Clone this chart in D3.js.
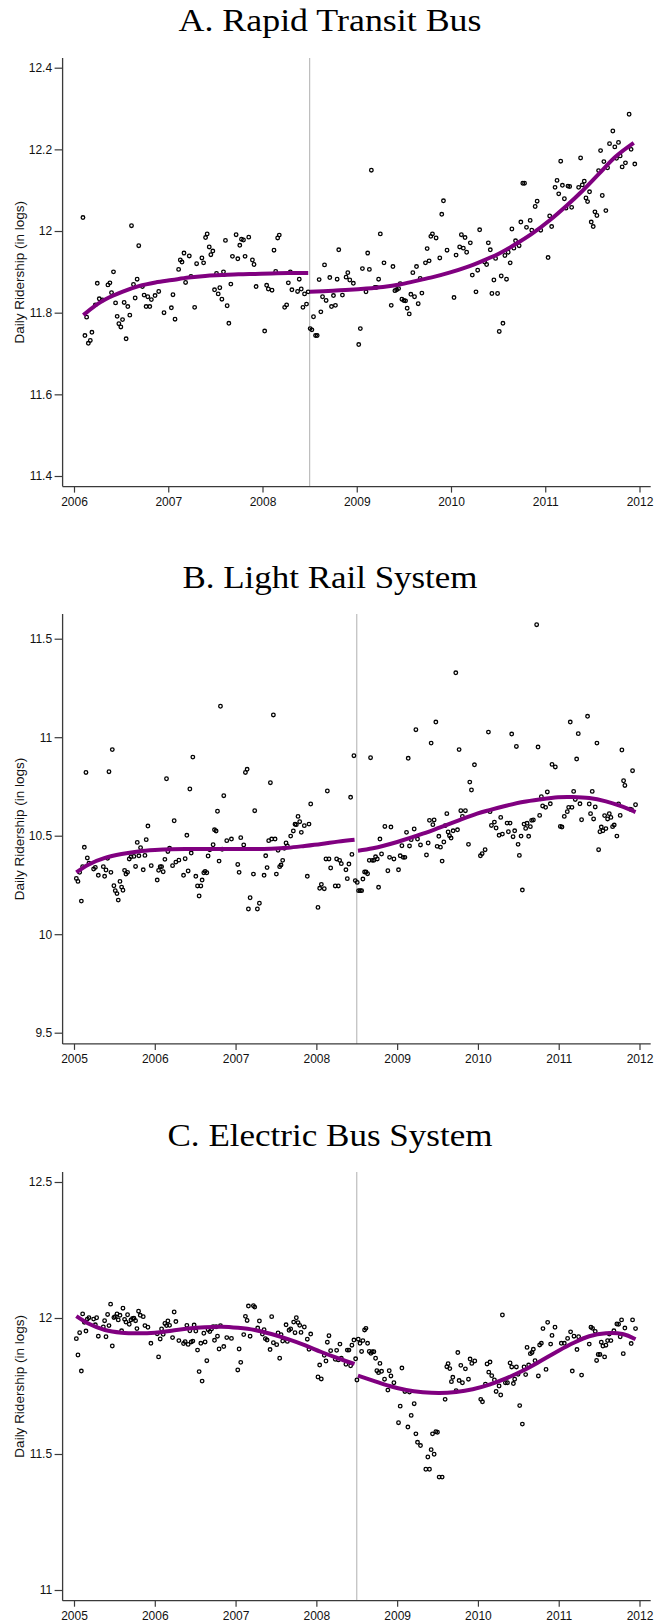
<!DOCTYPE html>
<html>
<head>
<meta charset="utf-8">
<script src="https://cdn.jsdelivr.net/npm/d3@7"></script>
<style>
  html, body { margin: 0; padding: 0; background: #fff; }
  svg { display: block; }
</style>
</head>
<body>
<svg id="chart"></svg>
<script>
const width = 654,
    height = 1623;

// ---- data: [year, log daily ridership] ----
const rapidPoints = [[2006.095,12.033],[2006.116,11.744],[2006.134,11.789],[2006.152,11.725],[2006.173,11.732],[2006.190,11.752],[2006.226,11.819],[2006.247,11.872],[2006.268,11.834],[2006.303,11.831],[2006.360,11.868],[2006.381,11.873],[2006.398,11.849],[2006.419,11.900],[2006.441,11.824],[2006.458,11.791],[2006.476,11.773],[2006.497,11.765],[2006.515,11.783],[2006.532,11.825],[2006.553,11.736],[2006.571,11.815],[2006.592,11.794],[2006.610,12.013],[2006.631,11.869],[2006.649,11.836],[2006.670,11.882],[2006.687,11.964],[2006.726,11.864],[2006.744,11.843],[2006.765,11.815],[2006.783,11.839],[2006.804,11.815],[2006.821,11.832],[2006.860,11.842],[2006.899,11.852],[2006.955,11.800],[2007.033,11.812],[2007.050,11.844],[2007.072,11.784],[2007.110,11.906],[2007.128,11.929],[2007.146,11.924],[2007.167,11.946],[2007.184,11.874],[2007.223,11.939],[2007.241,11.889],[2007.280,11.813],[2007.301,11.920],[2007.357,11.934],[2007.375,11.922],[2007.396,11.984],[2007.413,11.993],[2007.435,11.961],[2007.452,11.942],[2007.473,11.951],[2007.491,11.856],[2007.512,11.896],[2007.530,11.846],[2007.547,11.861],[2007.569,11.833],[2007.586,11.900],[2007.607,11.977],[2007.625,11.817],[2007.643,11.774],[2007.664,11.870],[2007.681,11.938],[2007.720,11.991],[2007.738,11.932],[2007.759,11.965],[2007.777,11.980],[2007.798,11.978],[2007.815,11.938],[2007.854,11.985],[2007.893,11.929],[2007.910,11.918],[2007.932,11.864],[2008.023,11.755],[2008.044,11.867],[2008.062,11.858],[2008.101,11.855],[2008.122,11.953],[2008.140,11.901],[2008.161,11.983],[2008.178,11.990],[2008.235,11.813],[2008.256,11.819],[2008.274,11.873],[2008.295,11.900],[2008.312,11.856],[2008.372,11.852],[2008.390,11.882],[2008.411,11.858],[2008.429,11.813],[2008.446,11.846],[2008.467,11.821],[2008.485,11.851],
  [2008.506,11.761],[2008.524,11.758],[2008.541,11.790],[2008.563,11.744],[2008.580,11.744],[2008.601,11.881],[2008.619,11.802],[2008.637,11.839],[2008.658,11.917],[2008.675,11.830],[2008.714,11.886],[2008.732,11.815],[2008.753,11.842],[2008.774,11.818],[2008.792,11.882],[2008.809,11.954],[2008.848,11.843],[2008.887,11.887],[2008.905,11.898],[2008.926,11.880],[2008.964,11.872],[2009.021,11.722],[2009.038,11.761],[2009.060,11.908],[2009.098,11.851],[2009.116,11.946],[2009.134,11.906],[2009.155,12.149],[2009.193,11.862],[2009.211,11.862],[2009.232,11.882],[2009.250,11.993],[2009.289,11.922],[2009.366,11.818],[2009.384,11.913],[2009.405,11.854],[2009.423,11.856],[2009.444,11.859],[2009.461,11.871],[2009.479,11.833],[2009.500,11.830],[2009.518,11.829],[2009.535,11.811],[2009.557,11.797],[2009.574,11.845],[2009.595,11.898],[2009.613,11.839],[2009.634,11.913],[2009.652,11.822],[2009.673,11.884],[2009.691,11.848],[2009.729,11.922],[2009.747,11.957],[2009.768,11.927],[2009.786,11.987],[2009.803,11.993],[2009.842,11.983],[2009.881,11.934],[2009.902,12.041],[2009.920,12.074],[2009.958,11.953],[2010.032,11.837],[2010.054,11.941],[2010.092,11.961],[2010.110,11.991],[2010.131,11.958],[2010.149,11.984],[2010.166,11.948],[2010.205,11.971],[2010.226,11.892],[2010.265,11.851],[2010.283,11.904],[2010.304,12.003],[2010.357,11.924],[2010.378,11.918],[2010.396,11.971],[2010.417,11.954],[2010.434,11.847],[2010.455,11.880],[2010.473,11.933],[2010.494,11.847],[2010.512,11.754],[2010.533,11.890],[2010.551,11.774],[2010.572,11.940],[2010.589,11.882],[2010.607,11.948],[2010.628,11.922],[2010.646,12.005],[2010.667,11.958],[2010.685,11.976],[2010.723,11.964],[2010.741,12.022],[2010.762,12.117],[2010.780,12.117],[2010.801,12.009],[2010.840,12.026],[2010.857,12.002],[2010.893,12.060],[2010.914,12.073],[2010.952,12.002],[2011.030,11.935],[2011.047,12.037],[2011.068,12.011],[2011.104,12.107],[2011.125,12.124],[2011.143,12.091],[2011.164,12.171],[2011.182,12.112],[2011.203,12.079],[2011.220,12.056],[2011.241,12.110],[2011.259,12.109],[2011.280,12.058],[2011.354,12.107],[2011.375,12.179],[2011.393,12.113],[2011.414,12.122],[2011.432,12.081],[2011.449,12.072],[2011.470,12.096],[2011.488,12.022],[2011.509,12.011],[2011.527,12.047],[2011.548,12.038],[2011.566,12.148],[2011.587,12.197],[2011.605,12.087],[2011.622,12.170],[2011.643,12.050],[2011.661,12.155],[2011.682,12.214],[2011.717,12.245],[2011.738,12.206],[2011.756,12.178],[2011.777,12.217],[2011.795,12.184],[2011.816,12.157],[2011.851,12.167],[2011.890,12.286],[2011.911,12.200],[2011.950,12.164]];

const rapidFitBefore = [[2006.099,11.794],[2006.229,11.818],[2006.335,11.833],[2006.511,11.851],[2006.687,11.865],[2006.864,11.874],[2007.040,11.880],[2007.216,11.886],[2007.392,11.890],[2007.569,11.892],[2007.745,11.894],[2007.921,11.895],[2008.097,11.896],[2008.274,11.897],[2008.485,11.897]];
const rapidFitAfter = [[2008.503,11.851],[2008.749,11.854],[2008.926,11.856],[2009.102,11.859],[2009.278,11.863],[2009.454,11.869],[2009.631,11.878],[2009.807,11.887],[2009.983,11.898],[2010.159,11.911],[2010.336,11.927],[2010.512,11.945],[2010.688,11.968],[2010.864,11.994],[2011.041,12.025],[2011.217,12.060],[2011.393,12.098],[2011.569,12.140],[2011.745,12.182],[2011.939,12.216]];

const railPoints = [[2005.029,10.283],[2005.049,10.268],[2005.070,10.314],[2005.091,10.168],[2005.107,10.343],[2005.128,10.441],[2005.148,10.821],[2005.165,10.387],[2005.185,10.361],[2005.243,10.331],[2005.264,10.339],[2005.301,10.299],[2005.363,10.343],[2005.379,10.294],[2005.396,10.326],[2005.416,10.385],[2005.433,10.825],[2005.457,10.314],[2005.474,10.937],[2005.494,10.246],[2005.511,10.221],[2005.532,10.206],[2005.548,10.173],[2005.569,10.268],[2005.589,10.239],[2005.606,10.223],[2005.626,10.324],[2005.643,10.305],[2005.663,10.314],[2005.684,10.382],[2005.705,10.393],[2005.742,10.395],[2005.762,10.344],[2005.783,10.466],[2005.803,10.398],[2005.824,10.439],[2005.857,10.327],[2005.878,10.400],[2005.894,10.480],[2005.915,10.549],[2005.956,10.348],[2006.030,10.275],[2006.047,10.324],[2006.067,10.343],[2006.084,10.343],[2006.104,10.317],[2006.125,10.380],[2006.145,10.789],[2006.162,10.420],[2006.183,10.436],[2006.220,10.348],[2006.240,10.576],[2006.261,10.366],[2006.298,10.376],[2006.356,10.299],[2006.376,10.383],[2006.397,10.502],[2006.413,10.321],[2006.434,10.737],[2006.451,10.412],[2006.471,10.899],[2006.508,10.294],[2006.529,10.245],[2006.549,10.194],[2006.570,10.245],[2006.586,10.275],[2006.607,10.312],[2006.623,10.319],[2006.644,10.312],[2006.660,10.397],[2006.681,10.429],[2006.722,10.454],[2006.739,10.530],[2006.759,10.524],[2006.776,10.624],[2006.796,10.371],[2006.813,11.157],[2006.834,10.431],[2006.854,10.703],[2006.891,10.475],[2006.949,10.483],[2007.027,10.354],[2007.044,10.314],[2007.064,10.490],[2007.101,10.453],[2007.122,10.821],[2007.143,10.837],[2007.159,10.128],[2007.180,10.185],[2007.221,10.305],[2007.237,10.627],[2007.270,10.128],[2007.295,10.157],[2007.353,10.299],[2007.373,10.398],[2007.390,10.338],[2007.410,10.475],[2007.431,10.769],[2007.447,10.483],[2007.468,11.113],[2007.489,10.483],[2007.505,10.305],[2007.526,10.426],[2007.546,10.343],[2007.563,10.351],[2007.583,10.375],[2007.604,10.436],[2007.625,10.463],[2007.641,10.448],[2007.682,10.498],[2007.715,10.524],[2007.736,10.558],[2007.752,10.556],[2007.773,10.598],[2007.794,10.571],[2007.814,10.517],[2007.851,10.551],[2007.888,10.294],[2007.909,10.559],[2007.930,10.661],[2008.020,10.136],[2008.041,10.233],[2008.062,10.253],[2008.098,10.231],[2008.119,10.382],[2008.136,10.727],[2008.156,10.382],[2008.177,10.336],[2008.234,10.245],[2008.251,10.382],[2008.272,10.245],[2008.288,10.375],[2008.309,10.358],[2008.366,10.327],[2008.383,10.282],[2008.403,10.356],[2008.424,10.695],[2008.440,10.405],[2008.465,10.906],[2008.482,10.272],
  [2008.506,10.263],[2008.523,10.221],[2008.544,10.221],[2008.560,10.221],[2008.576,10.280],[2008.597,10.316],[2008.614,10.316],[2008.634,10.307],[2008.655,10.375],[2008.671,10.896],[2008.692,10.375],[2008.712,10.375],[2008.733,10.393],[2008.754,10.382],[2008.770,10.238],[2008.787,10.483],[2008.807,10.407],[2008.848,10.547],[2008.885,10.322],[2008.906,10.390],[2008.923,10.544],[2008.960,10.382],[2009.017,10.327],[2009.038,10.398],[2009.059,10.449],[2009.075,10.390],[2009.096,10.390],[2009.116,10.517],[2009.137,10.893],[2009.153,10.448],[2009.174,10.480],[2009.211,10.534],[2009.232,11.038],[2009.252,10.483],[2009.289,10.453],[2009.363,10.402],[2009.384,10.463],[2009.400,10.578],[2009.421,10.970],[2009.442,10.556],[2009.458,10.580],[2009.479,11.077],[2009.495,10.446],[2009.516,10.497],[2009.536,10.442],[2009.557,10.371],[2009.578,10.468],[2009.594,10.551],[2009.615,10.612],[2009.631,10.519],[2009.648,10.500],[2009.668,10.488],[2009.693,10.525],[2009.726,11.327],[2009.747,10.530],[2009.767,10.937],[2009.788,10.627],[2009.808,10.598],[2009.845,10.627],[2009.883,10.456],[2009.899,10.772],[2009.920,10.732],[2009.957,10.860],[2010.031,10.398],[2010.052,10.409],[2010.089,10.429],[2010.130,11.026],[2010.150,10.622],[2010.167,10.552],[2010.204,10.569],[2010.225,10.539],[2010.262,10.502],[2010.282,10.593],[2010.303,10.508],[2010.361,10.564],[2010.377,10.520],[2010.398,10.564],[2010.418,11.016],[2010.435,10.495],[2010.455,10.525],[2010.476,10.953],[2010.497,10.456],[2010.513,10.400],[2010.534,10.498],[2010.550,10.224],[2010.571,10.559],[2010.591,10.537],[2010.608,10.563],[2010.628,10.497],[2010.649,10.546],[2010.665,10.578],[2010.686,10.580],[2010.727,11.571],[2010.744,10.950],[2010.764,10.603],[2010.785,10.698],[2010.801,10.651],[2010.838,10.644],[2010.859,10.722],[2010.896,10.662],[2010.917,10.862],[2010.958,10.849],[2011.020,10.547],[2011.040,10.544],[2011.069,10.598],[2011.106,10.622],[2011.123,10.644],[2011.143,11.077],[2011.164,10.644],[2011.185,10.725],[2011.205,10.684],[2011.222,10.889],[2011.242,11.018],[2011.263,10.662],[2011.283,10.581],[2011.357,11.106],[2011.378,10.661],[2011.394,10.612],[2011.415,10.725],[2011.432,10.585],[2011.452,10.646],[2011.473,10.970],[2011.494,10.429],[2011.510,10.520],[2011.527,10.544],[2011.547,10.525],[2011.568,10.602],[2011.584,10.536],[2011.605,10.585],[2011.626,10.612],[2011.646,10.593],[2011.667,10.546],[2011.687,10.554],[2011.720,10.498],[2011.741,10.661],[2011.761,10.603],[2011.782,10.935],[2011.803,10.779],[2011.819,10.755],[2011.881,10.635],[2011.902,10.632],[2011.914,10.830],[2011.951,10.657]];

const railFitBefore = [[2005.029,10.314],[2005.177,10.353],[2005.383,10.387],[2005.589,10.407],[2005.795,10.420],[2006.001,10.427],[2006.207,10.431],[2006.413,10.432],[2006.619,10.432],[2006.825,10.432],[2007.031,10.432],[2007.237,10.432],[2007.443,10.434],[2007.649,10.439],[2007.855,10.448],[2008.061,10.458],[2008.267,10.470],[2008.473,10.480]];
const railFitAfter = [[2008.515,10.424],[2008.700,10.436],[2009.001,10.468],[2009.318,10.510],[2009.524,10.541],[2009.730,10.573],[2009.990,10.612],[2010.142,10.630],[2010.348,10.652],[2010.554,10.671],[2010.760,10.684],[2010.991,10.695],[2011.173,10.696],[2011.378,10.691],[2011.584,10.674],[2011.790,10.647],[2011.951,10.620]];

const electricPoints = [[2005.029,11.924],[2005.049,11.864],[2005.070,11.946],[2005.091,11.805],[2005.107,12.015],[2005.128,11.984],[2005.148,11.952],[2005.165,11.996],[2005.185,12.001],[2005.243,11.996],[2005.264,11.975],[2005.280,12.001],[2005.301,11.933],[2005.363,11.967],[2005.379,11.990],[2005.396,11.931],[2005.416,12.013],[2005.433,11.972],[2005.453,12.051],[2005.474,11.897],[2005.494,12.002],[2005.511,12.005],[2005.532,12.015],[2005.548,11.993],[2005.569,12.010],[2005.589,11.953],[2005.606,12.036],[2005.626,11.995],[2005.643,11.985],[2005.663,12.012],[2005.684,11.977],[2005.705,11.993],[2005.725,11.998],[2005.742,11.999],[2005.762,11.990],[2005.779,11.961],[2005.799,12.025],[2005.820,12.010],[2005.857,12.005],[2005.878,11.972],[2005.915,11.966],[2005.952,11.907],[2006.030,11.942],[2006.047,11.857],[2006.067,11.923],[2006.084,11.960],[2006.104,11.940],[2006.125,11.980],[2006.145,11.972],[2006.162,11.989],[2006.183,11.973],[2006.220,11.928],[2006.240,12.022],[2006.261,11.987],[2006.298,11.917],[2006.356,11.906],[2006.376,11.913],[2006.397,11.973],[2006.413,11.903],[2006.434,11.953],[2006.451,11.912],[2006.471,11.915],[2006.487,11.974],[2006.508,11.952],[2006.529,11.882],[2006.549,11.803],[2006.570,11.907],[2006.586,11.768],[2006.607,11.944],[2006.623,11.912],[2006.644,11.843],[2006.660,11.957],[2006.681,11.950],[2006.702,11.960],[2006.722,11.968],[2006.739,11.918],[2006.759,11.968],[2006.776,11.933],[2006.796,11.886],[2006.813,11.972],[2006.854,11.895],[2006.891,11.928],[2006.949,11.925],[2007.027,11.809],[2007.044,11.886],[2007.064,11.837],[2007.101,11.939],[2007.122,12.006],[2007.143,11.991],[2007.159,12.044],[2007.180,11.933],[2007.221,12.045],[2007.237,12.040],[2007.274,11.963],[2007.295,11.989],[2007.332,11.941],[2007.353,11.957],[2007.369,11.924],[2007.390,11.919],[2007.427,11.884],[2007.447,12.005],[2007.468,11.909],[2007.509,11.902],[2007.526,11.945],[2007.546,11.852],[2007.563,11.939],[2007.583,11.915],[2007.625,11.975],[2007.641,11.914],[2007.662,11.955],[2007.682,11.960],[2007.719,11.985],[2007.736,11.946],[2007.752,12.001],[2007.773,11.983],[2007.794,11.973],[2007.810,11.947],[2007.851,11.967],[2007.888,11.922],[2007.909,11.885],[2007.930,11.941],[2008.020,11.783],[2008.041,11.827],[2008.061,11.776],[2008.098,11.863],[2008.119,11.842],[2008.136,11.911],[2008.156,11.935],[2008.177,11.880],[2008.234,11.848],[2008.251,11.881],[2008.272,11.846],[2008.292,11.904],[2008.309,11.852],[2008.366,11.830],[2008.383,11.882],[2008.403,11.882],[2008.424,11.824],[2008.440,11.900],[2008.465,11.919],[2008.486,11.850],
  [2008.502,11.772],[2008.519,11.922],[2008.540,11.907],[2008.560,11.877],[2008.576,11.917],[2008.597,11.956],[2008.614,11.962],[2008.634,11.907],[2008.655,11.877],[2008.675,11.870],[2008.692,11.876],[2008.712,11.876],[2008.733,11.852],[2008.749,11.806],[2008.770,11.799],[2008.787,11.833],[2008.807,11.804],[2008.844,11.775],[2008.885,11.735],[2008.902,11.806],[2008.923,11.787],[2008.960,11.762],[2009.017,11.615],[2009.038,11.676],[2009.059,11.816],[2009.096,11.730],[2009.133,11.599],[2009.153,11.728],[2009.174,11.642],[2009.211,11.685],[2009.232,11.574],[2009.252,11.543],[2009.289,11.531],[2009.355,11.444],[2009.380,11.489],[2009.400,11.444],[2009.421,11.516],[2009.438,11.574],[2009.458,11.499],[2009.479,11.582],[2009.499,11.580],[2009.520,11.415],[2009.557,11.415],[2009.594,11.701],[2009.615,11.821],[2009.631,11.832],[2009.652,11.814],[2009.672,11.766],[2009.689,11.782],[2009.730,11.733],[2009.751,11.873],[2009.767,11.770],[2009.788,11.826],[2009.808,11.762],[2009.845,11.813],[2009.883,11.775],[2009.903,11.849],[2009.924,11.833],[2009.961,11.842],[2010.035,11.701],[2010.056,11.692],[2010.093,11.757],[2010.113,11.831],[2010.134,11.801],[2010.150,11.838],[2010.171,11.788],[2010.204,11.772],[2010.225,11.730],[2010.262,11.750],[2010.282,11.717],[2010.303,12.011],[2010.340,11.762],[2010.365,11.762],[2010.398,11.835],[2010.418,11.820],[2010.439,11.759],[2010.455,11.775],[2010.476,11.820],[2010.497,11.793],[2010.517,11.678],[2010.550,11.610],[2010.571,11.820],[2010.591,11.792],[2010.608,11.892],[2010.628,11.827],[2010.649,11.869],[2010.670,11.873],[2010.686,11.885],[2010.707,11.843],[2010.748,11.787],[2010.764,11.901],[2010.785,11.907],[2010.805,11.961],[2010.843,11.811],[2010.863,11.984],[2010.900,11.904],[2010.917,11.936],[2010.954,11.966],[2011.032,11.907],[2011.069,11.907],[2011.110,11.925],[2011.147,11.949],[2011.168,11.805],[2011.189,11.933],[2011.226,11.884],[2011.246,11.931],[2011.283,11.790],[2011.378,11.904],[2011.399,11.966],[2011.419,11.962],[2011.452,11.951],[2011.469,11.844],[2011.489,11.866],[2011.510,11.866],[2011.527,11.911],[2011.547,11.897],[2011.568,11.857],[2011.584,11.900],[2011.605,11.917],[2011.626,11.941],[2011.646,11.917],[2011.683,11.953],[2011.720,11.978],[2011.741,11.977],[2011.761,11.931],[2011.778,11.993],[2011.799,11.869],[2011.819,11.963],[2011.897,11.906],[2011.914,11.993],[2011.951,11.961]];

const electricFitBefore = [[2005.029,12.007],[2005.177,11.980],[2005.383,11.956],[2005.589,11.946],[2005.795,11.944],[2006.001,11.946],[2006.207,11.953],[2006.413,11.961],[2006.619,11.966],[2006.825,11.968],[2007.031,11.964],[2007.237,11.956],[2007.443,11.941],[2007.649,11.922],[2007.855,11.900],[2008.061,11.875],[2008.267,11.852],[2008.473,11.831]];
const electricFitAfter = [[2008.515,11.788],[2008.700,11.770],[2008.906,11.750],[2009.112,11.735],[2009.318,11.727],[2009.524,11.724],[2009.730,11.728],[2009.936,11.738],[2010.142,11.755],[2010.348,11.778],[2010.554,11.806],[2010.760,11.839],[2010.966,11.874],[2011.173,11.907],[2011.378,11.933],[2011.584,11.944],[2011.790,11.941],[2011.951,11.922]];

const titles = ["A. Rapid Transit Bus", "B. Light Rail System", "C. Electric Bus System"];
const yTickSets = [[11.4, 11.6, 11.8, 12, 12.2, 12.4], [9.5, 10, 10.5, 11, 11.5], [11, 11.5, 12, 12.5]];
const yDomains = [[11.4, 12.4], [9.5, 11.5], [11, 12.5]];
const xDomains = [[2006, 2012], [2005, 2012], [2005, 2012]];
const cutoffYear = 2008.5;
const yLabel = "Daily Ridership (in logs)";

// ---- layout (pixels) ----
const panels = [
    {titleY: 31, titleW: 303, top: 58, base: 486.6, yr: [476, 67.7], pts: rapidPoints, fits: [rapidFitBefore, rapidFitAfter]},
    {titleY: 588, titleW: 295, top: 614, base: 1043.9, yr: [1032.7, 638.7], pts: railPoints, fits: [railFitBefore, railFitAfter]},
    {titleY: 1146, titleW: 325, top: 1172, base: 1600.7, yr: [1590, 1182], pts: electricPoints, fits: [electricFitBefore, electricFitAfter]}
];
const axisLeftX = 62.6, axisRightX = 650.7, xr = [74, 639.5];

const svg = d3.select("#chart").attr("width", width).attr("height", height);
svg.append("rect").attr("width", width).attr("height", height).attr("fill", "#fff");

panels.forEach((p, i) => {
    const g = svg.append("g").attr("class", "panel");
    const x = d3.scaleLinear().domain(xDomains[i]).range(xr);
    const y = d3.scaleLinear().domain(yDomains[i]).range(p.yr);

    // title
    g.append("text")
        .attr("x", 330).attr("y", p.titleY)
        .attr("text-anchor", "middle")
        .attr("font-family", "'Liberation Serif', 'Times New Roman', serif")
        .attr("font-size", 32)
        .attr("textLength", p.titleW)
        .attr("lengthAdjust", "spacingAndGlyphs")
        .attr("fill", "#000")
        .text(titles[i]);

    // cutoff line
    g.append("line")
        .attr("x1", x(cutoffYear)).attr("x2", x(cutoffYear))
        .attr("y1", p.top).attr("y2", p.base)
        .attr("stroke", "#bdbdbd").attr("stroke-width", 1.2);

    // axes
    const yAxis = d3.axisLeft(y).tickValues(yTickSets[i]).tickSize(8).tickPadding(2.5).tickFormat(d => String(d));
    const gy = g.append("g").attr("transform", `translate(${axisLeftX},0)`).call(yAxis);
    const years = d3.range(xDomains[i][0], xDomains[i][1] + 1);
    const xAxis = d3.axisBottom(x).tickValues(years).tickSize(6).tickPadding(4.5).tickFormat(d3.format("d"));
    const gx = g.append("g").attr("transform", `translate(0,${p.base})`).call(xAxis);
    [gx, gy].forEach(a => {
        a.select(".domain").remove();
        a.selectAll(".tick line").attr("stroke", "#3a3a3a").attr("stroke-width", 1.2);
        a.selectAll(".tick text")
            .attr("font-family", "'Liberation Sans', Arial, sans-serif")
            .attr("font-size", 12).attr("fill", "#111");
    });
    g.append("line").attr("x1", axisLeftX).attr("x2", axisLeftX).attr("y1", p.top).attr("y2", p.base)
        .attr("stroke", "#3a3a3a").attr("stroke-width", 1.3);
    g.append("line").attr("x1", axisLeftX).attr("x2", axisRightX).attr("y1", p.base).attr("y2", p.base)
        .attr("stroke", "#3a3a3a").attr("stroke-width", 1.3);

    // y label
    g.append("text")
        .attr("transform", `translate(19,${(p.top + p.base) / 2}) rotate(-90)`)
        .attr("dy", "0.35em")
        .attr("text-anchor", "middle")
        .attr("font-family", "'Liberation Sans', Arial, sans-serif")
        .attr("font-size", 13.5)
        .attr("fill", "#111")
        .text(yLabel);

    // scatter
    g.append("g").selectAll("circle")
        .data(p.pts)
        .join("circle")
        .attr("cx", d => x(d[0]))
        .attr("cy", d => y(d[1]))
        .attr("r", 1.8)
        .attr("fill", "none")
        .attr("stroke", "#000")
        .attr("stroke-width", 1.3);

    // fitted polynomials on each side of the cutoff
    const line = d3.line().x(d => x(d[0])).y(d => y(d[1])).curve(d3.curveCatmullRom.alpha(0.5));
    p.fits.forEach(f => {
        g.append("path")
            .attr("d", line(f))
            .attr("fill", "none")
            .attr("stroke", "#800080")
            .attr("stroke-width", 4)
            .attr("stroke-linecap", "butt");
    });
});
</script>
</body>
</html>
